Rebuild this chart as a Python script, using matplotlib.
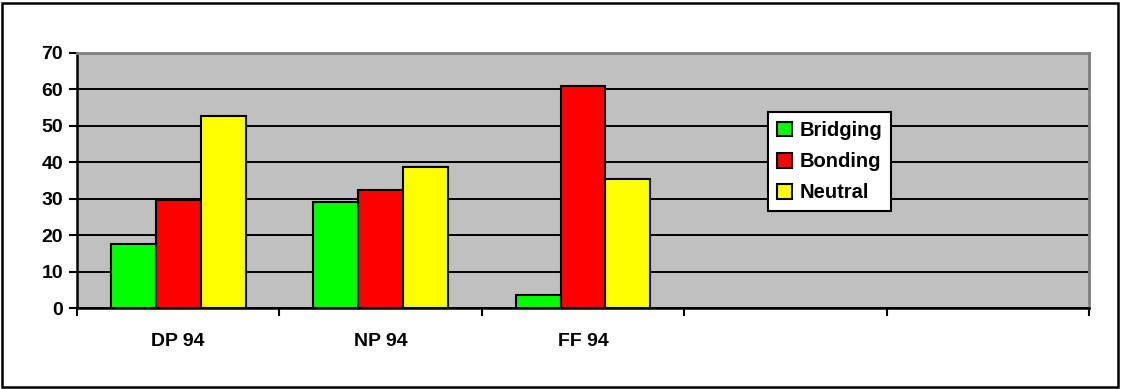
import matplotlib.pyplot as plt
import numpy as np
from matplotlib.patches import Rectangle

plt.rcParams['font.family'] = ['Liberation Sans', 'DejaVu Sans']
plt.rcParams['font.weight'] = 'bold'

# five category slots, only the first three carry data
categorias = ['DP 94', 'NP 94', 'FF 94', '', '']
series = ['Bridging', 'Bonding', 'Neutral']
bridging = [17.6, 29.1, 3.6]
bonding = [29.6, 32.3, 60.7]
neutral = [52.5, 38.6, 35.5]
colores = ['#00FF00', '#FF0000', '#FFFF00']

W, H = 1122, 389
fig = plt.figure(figsize=(W / 100, H / 100), dpi=100)
fig.patch.set_facecolor('white')

# marco exterior del grafico
fig.patches.append(Rectangle((2 / W, 2 / H), 1116 / W, 384 / H,
                             transform=fig.transFigure, fill=False,
                             edgecolor='black', linewidth=1.8))

ax = fig.add_axes([77 / W, (H - 308.2) / H, 1012 / W, 255.7 / H])
ax.set_facecolor('#C0C0C0')

ancho = 0.222
x = np.arange(len(bridging))
for i, (nombre, valores) in enumerate(zip(series, [bridging, bonding, neutral])):
    ax.bar(x + (i - 1) * ancho, valores, width=ancho, color=colores[i],
           edgecolor='black', linewidth=1.5, label=nombre, zorder=3)

ax.set_xlim(-0.5, len(categorias) - 0.5)
ax.set_ylim(0, 70)
ax.set_yticks(np.arange(0, 71, 10))
ax.yaxis.grid(True, color='black', linewidth=1.4, zorder=1)
ax.set_axisbelow(True)

# etiquetas en el centro, marcas en los limites de cada categoria
ax.set_xticks(np.arange(len(categorias)))
ax.set_xticklabels(categorias, fontsize=14, fontweight='bold')
ax.tick_params(axis='x', length=0, pad=18)
ax.set_xticks(np.arange(-0.5, len(categorias)), minor=True)
ax.tick_params(axis='x', which='minor', length=6, width=1.5, color='black')
ax.tick_params(axis='y', length=6, width=1.5, labelsize=14, pad=4)
for lab in ax.get_yticklabels():
    lab.set_fontweight('bold')

for lado in ['left', 'bottom']:
    ax.spines[lado].set_color('black')
    ax.spines[lado].set_linewidth(1.8)
for lado in ['top', 'right']:
    ax.spines[lado].set_color('#808080')
    ax.spines[lado].set_linewidth(2)

leg = ax.legend(loc='upper left', bbox_to_anchor=(0.683, 0.767),
                fontsize=14.5, frameon=True, fancybox=False,
                handlelength=0.75, handleheight=0.75, handletextpad=0.35,
                borderpad=0.45, labelspacing=0.6, borderaxespad=0)
leg.get_frame().set_edgecolor('black')
leg.get_frame().set_linewidth(1.5)
leg.get_frame().set_alpha(1)
for t in leg.get_texts():
    t.set_fontweight('bold')

fig.savefig('out.png', dpi=100)
